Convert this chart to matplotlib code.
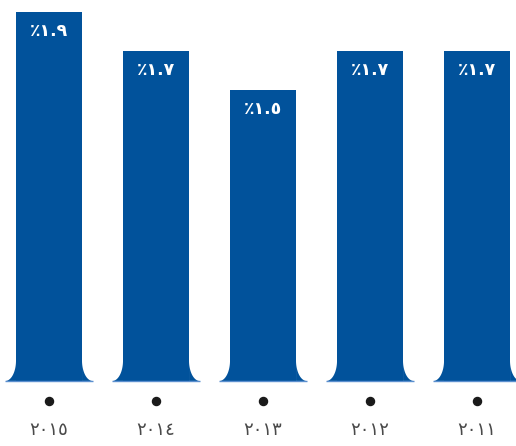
import numpy as np
import matplotlib
matplotlib.use('Agg')
import matplotlib.pyplot as plt
from matplotlib.patches import Polygon

# data (visual order, right-to-left chart: 2015 at left)
years = ['٢٠١٥', '٢٠١٤', '٢٠١٣', '٢٠١٢', '٢٠١١']
values = [1.9, 1.7, 1.5, 1.7, 1.7]
labels = ['٪١.٩', '٪١.٧', '٪١.٥', '٪١.٧', '٪١.٧']

blue = '#01529b'
edge = '#5b8fcf'

fig = plt.figure(figsize=(5.16, 4.46), dpi=100)
ax = fig.add_axes([0, 0, 1, 1])

x = np.arange(len(values))
w = 0.617
bars = ax.bar(x, values, width=w, color=blue, linewidth=0)

# flared feet at bottom of each bar
fw, fh = 0.1, 0.105
th = np.linspace(0, np.pi / 2, 30)
for b in bars:
    xl = b.get_x()
    xr = xl + b.get_width()
    # left foot
    cx = xl - fw
    pts = [(cx + fw * np.cos(t), fh - fh * np.sin(t)) for t in th] + [(xl, 0)]
    ax.add_patch(Polygon(pts, closed=True, color=blue, lw=0))
    # right foot
    cx = xr + fw
    pts = [(cx - fw * np.cos(t), fh - fh * np.sin(t)) for t in th] + [(xr, 0)]
    ax.add_patch(Polygon(pts, closed=True, color=blue, lw=0))
    ax.plot([xl - fw, xr + fw], [0, 0], color=edge, lw=1.0, solid_capstyle='butt')

for xi, v, lab in zip(x, values, labels):
    ax.text(xi, v - 0.1, lab, ha='center', va='center', color='white',
            fontsize=12.5, fontweight='bold')

# dots and year labels
ax.plot(x, np.full(len(x), -0.103), 'o', color='#1a1a1a', markersize=5.8)
for xi, yr in zip(x, years):
    ax.text(xi, -0.255, yr, ha='center', va='center', color='#4a4a4a', fontsize=13)

ax.set_xlim(-0.458, 4.364)
ax.set_ylim(-0.335, 1.962)
ax.axis('off')

fig.savefig('out.png', dpi=100)
